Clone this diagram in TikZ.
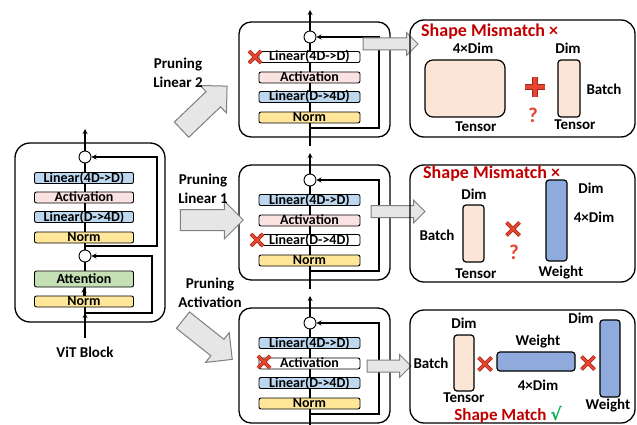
\documentclass[tikz,border=0pt]{standalone}
\usepackage{fontspec}
\setmainfont{Carlito}
\newfontfamily\symfont{DejaVu Sans}
\usetikzlibrary{shapes.arrows,positioning}

\definecolor{linblue}{HTML}{BDD7EE}
\definecolor{actpink}{HTML}{FBE2E2}
\definecolor{normyel}{HTML}{FFE699}
\definecolor{attgreen}{HTML}{C5E0B4}
\definecolor{tenpeach}{HTML}{FBE5D6}
\definecolor{wgtblue}{HTML}{8FAADC}
\definecolor{arrgray}{HTML}{E7E6E6}
\definecolor{arrline}{HTML}{7F7F7F}
\definecolor{errred}{HTML}{C00000}
\definecolor{xred}{HTML}{E8432F}
\definecolor{xdark}{HTML}{9A2A1C}
\definecolor{okgreen}{HTML}{00B050}

\tikzset{
  pics/xcross/.style={code={
    \draw[line width=3.6pt,xdark] (-#1,-#1) -- (#1,#1) (-#1,#1) -- (#1,-#1);
    \draw[line width=2.4pt,xred] (-#1,-#1) -- (#1,#1) (-#1,#1) -- (#1,-#1);
  }},
  pics/redplus/.style={code={
    \draw[line width=5.6pt,xdark] (-#1,0) -- (#1,0) (0,-#1) -- (0,#1);
    \draw[line width=4.2pt,xred] (-#1,0) -- (#1,0) (0,-#1) -- (0,#1);
  }}
}

\begin{document}
\begin{tikzpicture}[x=1pt,y=-1pt,>=stealth,
  every node/.style={font=\bfseries},
  mainln/.style={line width=1.2pt},
  block/.style={draw,line width=1.3pt,rounded corners=12pt,inner sep=0pt},
  panel/.style={draw,line width=1.3pt,rounded corners=14pt,inner sep=0pt,
    minimum width=225pt},
  layer/.style={draw,line width=0.9pt,rounded corners=2pt,inner sep=0pt,
    minimum width=101pt,minimum height=11pt,text height=9pt,text depth=1pt,
    font=\fontsize{14}{14}\selectfont\bfseries},
  adder/.style={circle,draw,line width=0.9pt,fill=white,minimum size=12pt,
    inner sep=0pt},
  lbl/.style={inner sep=0pt,align=center,
    font=\fontsize{15}{19}\selectfont\bfseries},
  ttl/.style={inner sep=0pt,text=errred,
    font=\fontsize{18}{18}\selectfont\bfseries},
  qmark/.style={inner sep=0pt,text=xred,
    font=\fontsize{21}{21}\selectfont\bfseries},
  tens/.style={draw,line width=1.2pt,fill=tenpeach,rounded corners=3pt,
    inner sep=0pt},
  wgt/.style={draw,line width=1.2pt,fill=wgtblue,rounded corners=3pt,
    inner sep=0pt},
  fatarrow/.style={single arrow,draw=arrline,fill=arrgray,line width=1pt,
    inner xsep=0pt,inner ysep=10pt,single arrow head extend=8.5pt,
    minimum height=63pt},
  thinarrow/.style={single arrow,draw=arrline,fill=arrgray,line width=1pt,
    inner xsep=0pt,inner ysep=5.5pt,single arrow head extend=5.5pt}]

  \useasboundingbox (0,0) rectangle (637,425);

  % ViT block
  \coordinate (vin) at (85,338);
  \coordinate (vout) at (85,129);
  \node[block,rounded corners=15pt,minimum width=150pt,minimum height=179pt]
    (vit) at (90,232.5) {};
  \draw[mainln,->] (vin) -- (vout);
  \node[adder] (sumb) at (85,157) {};
  \node[layer,fill=linblue,minimum width=99pt] (vlin2) at (84,178) {Linear(4D->D)};
  \node[layer,fill=actpink,minimum width=99pt] (vact) at (84,197.5) {Activation};
  \node[layer,fill=linblue,minimum width=99pt] (vlin1) at (84,217) {Linear(D->4D)};
  \node[layer,fill=normyel,minimum width=99pt] (vnorm2) at (84,237.5) {Norm};
  \node[adder] (suma) at (85,256) {};
  \node[layer,fill=attgreen,minimum width=99pt,minimum height=16pt]
    (vatt) at (84,279) {Attention};
  \node[layer,fill=normyel,minimum width=99pt] (vnorm1) at (84,301.5) {Norm};
  \coordinate (vres2) at (85,246);
  \coordinate (vres1) at (85,313);
  \draw[mainln,->] (vres2) -- ++(72,0) |- (sumb);
  \draw[mainln,->] (vres1) -- ++(67,0) |- (suma);
  \draw[mainln,->] (vnorm1) -- (vatt);
  \draw[mainln,->] (vin) -- (vres1);
  \node[lbl] (vitlbl) at (85,352) {ViT Block};

  % Pruned blocks
  \foreach \n/\t/\ca/\cb/\cc in {1/22/white/actpink/linblue,
      2/165/linblue/actpink/white, 3/308/linblue/white/linblue} {
    \coordinate (in\n) at (310,\t+124);
    \coordinate (out\n) at (310,\t-12);
    \coordinate (res\n) at (310,\t+106);
    \node[block,minimum width=151pt,minimum height=115pt]
      (blk\n) at (314.5,\t+57.5) {};
    \draw[mainln,->] (in\n) -- (out\n);
    \node[adder] (sum\n) at (310,\t+15) {};
    \node[layer,fill=\ca] (lin2\n) at (309.5,\t+35) {Linear(4D->D)};
    \node[layer,fill=\cb] (act\n) at (309.5,\t+55.5) {Activation};
    \node[layer,fill=\cc] (lin1\n) at (309.5,\t+75) {Linear(D->4D)};
    \node[layer,fill=normyel] (norm\n) at (309.5,\t+95.5) {Norm};
    \draw[mainln,->] (res\n) -- ++(69,0) |- (sum\n);
  }
  \pic at (255,57) {xcross=6};
  \pic at (257,240) {xcross=6};
  \pic at (264,362) {xcross=6};

  % Pruning arrows
  \node[fatarrow,rotate=43.7] (arrl2) at (200.5,111.5) {};
  \node[fatarrow] (arrl1) at (206.5,220) {};
  \node[fatarrow,rotate=-38.5] (arract) at (203.5,336.5) {};
  \node[lbl] (txtl2) at (178,72.5) {Pruning\\Linear 2};
  \node[lbl] (txtl1) at (203,189) {Pruning\\Linear 1};
  \node[lbl] (txtact) at (210,292.5) {Pruning\\Activation};

  % Arrows to the shape checks
  \node[thinarrow,minimum height=55pt] (toc1) at (387.5,44) {};
  \node[thinarrow,minimum height=54pt] (toc2) at (395,211.5) {};
  \node[thinarrow,minimum height=44pt] (toc3) at (386,366) {};

  % Check 1: Linear 2
  \node[panel,minimum height=117pt] (pan1) at (522.5,78.5) {};
  \node[ttl,anchor=west] (tt1) at (421,32) {Shape Mismatch ×};
  \node[tens,rounded corners=8pt,minimum width=80pt,minimum height=57pt]
    (ta1) at (465,88.5) {};
  \node[lbl] (ta1w) at (473,48) {4×Dim};
  \node[lbl] (ta1n) at (476,127) {Tensor};
  \pic at (535,87) {redplus=10};
  \node[qmark] (q1) at (533,115) {?};
  \node[tens,minimum width=22pt,minimum height=57pt] (tb1) at (569,88.5) {};
  \node[lbl] (tb1w) at (568,48) {Dim};
  \node[lbl] (tb1h) at (604,89) {Batch};
  \node[lbl] (tb1n) at (575,125) {Tensor};

  % Check 2: Linear 1
  \node[panel,minimum height=117pt] (pan2) at (522.5,223.5) {};
  \node[ttl,anchor=west] (tt2) at (423,174) {Shape Mismatch ×};
  \node[tens,minimum width=21pt,minimum height=57pt] (ta2) at (473.5,233.5) {};
  \node[lbl] (ta2w) at (474,194) {Dim};
  \node[lbl] (ta2h) at (437,235) {Batch};
  \node[lbl] (ta2n) at (476,274) {Tensor};
  \pic at (513,229) {xcross=6.5};
  \node[qmark] (q2) at (514,252) {?};
  \node[wgt,minimum width=21pt,minimum height=81pt] (wa2) at (556.5,220.5) {};
  \node[lbl] (wa2w) at (591,188) {Dim};
  \node[lbl] (wa2h) at (594,217) {4×Dim};
  \node[lbl] (wa2n) at (561,273) {Weight};

  % Check 3: Activation
  \node[panel,minimum height=113pt] (pan3) at (522.5,366.5) {};
  \node[tens,minimum width=20pt,minimum height=56pt] (ta3) at (464,363) {};
  \node[lbl] (ta3w) at (464,323) {Dim};
  \node[lbl] (ta3h) at (431,363) {Batch};
  \node[lbl] (ta3n) at (464,398) {Tensor};
  \pic at (485,364) {xcross=6.5};
  \node[wgt,minimum width=78pt,minimum height=19pt] (wa3) at (536,361.5) {};
  \node[lbl] (wa3n) at (538,342) {Weight};
  \node[lbl] (wa3w) at (538,385) {4×Dim};
  \pic at (588,363) {xcross=6.5};
  \node[wgt,minimum width=20pt,minimum height=77pt] (wb3) at (610,358.5) {};
  \node[lbl] (wb3w) at (581,318) {Dim};
  \node[lbl] (wb3n) at (608,406) {Weight};
  \node[ttl,font=\fontsize{17}{17}\selectfont\bfseries] (tt3) at (508,415)
    {Shape Match \textcolor{okgreen}{\symfont √}};
\end{tikzpicture}
\end{document}
